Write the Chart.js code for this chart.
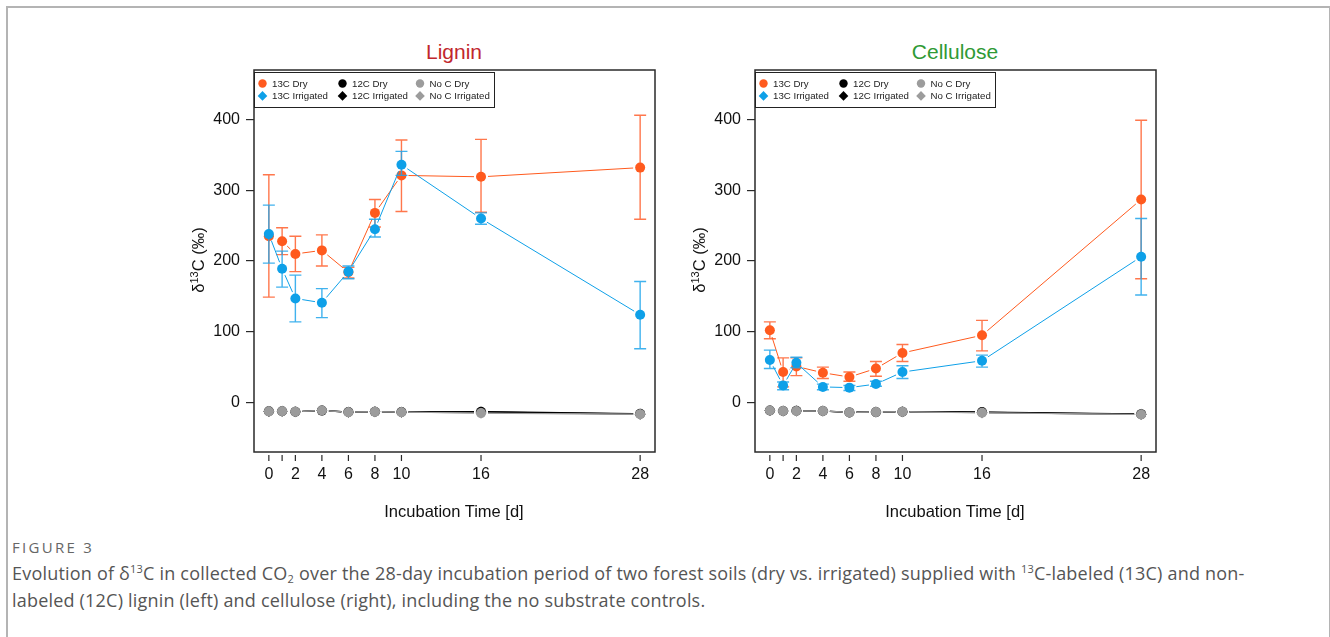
<!DOCTYPE html>
<html>
<head>
<meta charset="utf-8">
<script src="https://cdn.jsdelivr.net/npm/chart.js@4.4.1/dist/chart.umd.min.js"></script>
<style>
  html, body { margin: 0; padding: 0; background: #fff; }
  body { width: 1330px; height: 637px; position: relative; overflow: hidden; font-family: "Liberation Sans", Arial, sans-serif; }
  .frame { position: absolute; left: 6px; top: 6px; width: 1321px; height: 700px; border: 2px solid #b4b4b4; border-bottom: none; }
  .plot { position: absolute; top: 60px; width: 530px; height: 480px; }
  .title { position: absolute; top: 40px; width: 400px; text-align: center; font-size: 21px; line-height: 24px; }
  .xlab { position: absolute; top: 502px; width: 400px; text-align: center; font-size: 16.5px; color: #111; }
  .ylab { position: absolute; top: 250px; width: 140px; height: 20px; line-height: 20px; text-align: center; font-size: 16.5px; color: #111; transform: rotate(-90deg); }
  .ylab sup { font-size: 11px; vertical-align: 6px; line-height: 0; }
  .fig { position: absolute; left: 12px; top: 537px; font-family: "Open Sans", sans-serif; font-size: 15px; color: #666; letter-spacing: 2.3px; }
  .cap { position: absolute; left: 12px; top: 560px; width: 1310px; font-family: "Open Sans", sans-serif; font-size: 18px; letter-spacing: 0.2px; line-height: 27px; color: #555; white-space: nowrap; }
  .cap sup { font-size: 11px; vertical-align: 7px; line-height: 0; }
  .cap sub { font-size: 11px; vertical-align: -3px; line-height: 0; }
</style>
</head>
<body>
<div class="frame"></div>

<div class="title" style="left:254px; color:#c1272d;">Lignin</div>
<div class="title" style="left:755px; color:#2f9a35;">Cellulose</div>

<div class="plot" style="left:150px;"><canvas id="ligninChart" width="530" height="480"></canvas></div>
<div class="plot" style="left:651px;"><canvas id="celluloseChart" width="530" height="480"></canvas></div>

<div class="ylab" style="left:128px;">δ<sup>13</sup>C (‰)</div>
<div class="ylab" style="left:629px;">δ<sup>13</sup>C (‰)</div>
<div class="xlab" style="left:254px;">Incubation Time [d]</div>
<div class="xlab" style="left:755px;">Incubation Time [d]</div>

<div class="fig">FIGURE 3</div>
<div class="cap">Evolution of δ<sup>13</sup>C in collected CO<sub>2</sub> over the 28-day incubation period of two forest soils (dry vs. irrigated) supplied with <sup>13</sup>C-labeled (13C) and non-<br>labeled (12C) lignin (left) and cellulose (right), including the no substrate controls.</div>

<script>
// incubation days and axis ticks
const days = [0, 1, 2, 4, 6, 8, 10, 16, 28];
const xTicks = [0, 1, 2, 4, 6, 8, 10, 16, 28];
const yTicks = [0, 100, 200, 300, 400];
const legendLabels = [['13C Dry', '13C Irrigated'], ['12C Dry', '12C Irrigated'], ['No C Dry', 'No C Irrigated']];

// lignin
const ligninDry13 = [235, 228, 210, 215, 184, 268, 321, 319, 332];
const ligninDry13Lo = [149, 209, 185, 193, 176, 248, 270, 269, 259];
const ligninDry13Hi = [322, 247, 235, 237, 191, 287, 371, 372, 406];
const ligninIrr13 = [238, 189, 147, 141, 185, 245, 336, 260, 124];
const ligninIrr13Lo = [197, 163, 114, 120, 175, 234, 321, 252, 76];
const ligninIrr13Hi = [279, 214, 180, 161, 193, 259, 355, 268, 171];
const ligninDry12 = [-12.5, -12.3, -13, -11.5, -13.5, -13, -13.5, -13, -16];
const ligninIrr12 = [-12.7, -12.5, -13, -11.3, -13.7, -13.2, -13.7, -13.5, -16.5];
const ligninDryNoC = [-12.7, -12.3, -13, -11.3, -13.7, -13, -13.7, -15, -16.5];
const ligninIrrNoC = [-12.5, -12.5, -12.8, -11.5, -13.5, -13.2, -13.5, -15.3, -16.8];

// cellulose
const celluloseDry13 = [102, 43, 51, 42, 36, 48, 70, 95, 287];
const celluloseDry13Lo = [90, 22, 38, 34, 30, 37, 58, 73, 175];
const celluloseDry13Hi = [114, 63, 63, 50, 43, 58, 82, 116, 399];
const celluloseIrr13 = [60, 24, 56, 22, 21, 26, 43, 59, 206];
const celluloseIrr13Lo = [48, 18, 49, 18, 17, 23, 34, 50, 152];
const celluloseIrr13Hi = [74, 29, 64, 26, 24, 30, 52, 67, 260];
const celluloseDry12 = [-11.3, -12, -11.8, -12, -14, -13.6, -13, -13.5, -16.5];
const celluloseIrr12 = [-11.5, -12, -12, -12, -14, -13.5, -13, -14, -16.8];
const celluloseDryNoC = [-11.3, -12, -12, -12, -14, -13.6, -13, -14.6, -17];
const celluloseIrrNoC = [-11.5, -12.2, -12, -12.2, -14, -13.4, -13.2, -14.8, -17];

const ORANGE = '#ff5a1e';
const BLUE = '#0ea0e8';
const GRAY = '#9c9c9c';
const BLACK = '#000000';
const GAP = 7;

function drawMarker(ctx, shape, x, y, r, color) {
    ctx.fillStyle = color;
    ctx.beginPath();
    if (shape === 'diamond') {
        ctx.moveTo(x, y - r); ctx.lineTo(x + r, y); ctx.lineTo(x, y + r); ctx.lineTo(x - r, y);
        ctx.closePath();
    } else {
        ctx.arc(x, y, r, 0, Math.PI * 2);
    }
    ctx.fill();
}

// R-like look: gapped lines (type = "b"), error bars, box, outside x ticks, legend
const rStylePlugin = {
    id: 'rStyle',
    beforeDatasetDraw(chart, args) {
        const ds = chart.data.datasets[args.index];
        const pts = args.meta.data;
        const ctx = chart.ctx;
        const yScale = chart.scales.y;
        ctx.save();
        ctx.strokeStyle = ds.lineColor;
        ctx.lineWidth = ds.lineWidth;
        for (let i = 0; i < pts.length - 1; i++) {
            const a = pts[i], b = pts[i + 1];
            const dx = b.x - a.x, dy = b.y - a.y;
            const len = Math.hypot(dx, dy);
            if (len <= 2 * GAP) continue;
            const ux = dx / len, uy = dy / len;
            ctx.beginPath();
            ctx.moveTo(a.x + ux * GAP, a.y + uy * GAP);
            ctx.lineTo(b.x - ux * GAP, b.y - uy * GAP);
            ctx.stroke();
        }
        if (ds.errLo) {
            ctx.strokeStyle = ds.errColor;
            ctx.lineWidth = 1.4;
            pts.forEach((p, i) => {
                const lo = yScale.getPixelForValue(ds.errLo[i]);
                const hi = yScale.getPixelForValue(ds.errHi[i]);
                ctx.beginPath();
                ctx.moveTo(p.x, lo); ctx.lineTo(p.x, hi);
                ctx.moveTo(p.x - 6, lo); ctx.lineTo(p.x + 6, lo);
                ctx.moveTo(p.x - 6, hi); ctx.lineTo(p.x + 6, hi);
                ctx.stroke();
            });
        }
        ctx.restore();
    },
    afterDraw(chart) {
        const ctx = chart.ctx;
        const area = chart.chartArea;
        const xScale = chart.scales.x;
        ctx.save();
        // box
        ctx.strokeStyle = '#2a2a2a';
        ctx.lineWidth = 1.5;
        ctx.strokeRect(area.left, area.top, area.right - area.left, area.bottom - area.top);
        // x tick marks hanging below the box
        ctx.lineWidth = 1.2;
        ctx.beginPath();
        xTicks.forEach(v => {
            const px = xScale.getPixelForValue(v);
            ctx.moveTo(px, area.bottom + 3);
            ctx.lineTo(px, area.bottom + 9);
        });
        ctx.stroke();
        // legend
        const lx = area.left, ly = area.top + 2;
        ctx.fillStyle = '#fff';
        ctx.fillRect(lx, ly, 241, 35);
        ctx.strokeStyle = '#222';
        ctx.lineWidth = 1;
        ctx.strokeRect(lx + 0.5, ly + 0.5, 240, 35);
        const colX = [8.5, 88.5, 166];
        const colors = [[ORANGE, BLUE], [BLACK, BLACK], [GRAY, GRAY]];
        ctx.font = '9.7px "Liberation Sans", Arial, sans-serif';
        ctx.textBaseline = 'middle';
        ctx.textAlign = 'left';
        legendLabels.forEach((col, c) => {
            col.forEach((label, r) => {
                const yy = ly + 11.5 + r * 12.4;
                drawMarker(ctx, r === 0 ? 'circle' : 'diamond', lx + colX[c], yy, r === 0 ? 4.2 : 4.8, colors[c][r]);
                ctx.fillStyle = '#222';
                ctx.fillText(label, lx + colX[c] + 9.5, yy + 0.5);
            });
        });
        ctx.restore();
    }
};

function makeDataset(label, values, color, style, opts) {
    return Object.assign({
        label: label,
        data: days.map((d, i) => ({ x: d, y: values[i] })),
        showLine: false,
        pointStyle: style,
        pointRadius: style === 'rectRot' ? 5.5 : 5,
        pointBackgroundColor: color,
        pointBorderWidth: 0,
        lineColor: color,
        lineWidth: 1
    }, opts || {});
}

function createChart(canvasId, s) {
    // Chart.js paints the first dataset last, so the topmost series comes first
    new Chart(document.getElementById(canvasId), {
        type: 'line',
        data: {
            datasets: [
                makeDataset('13C Irrigated', s.irr13, BLUE, 'circle', {
                    errLo: s.irr13Lo, errHi: s.irr13Hi, errColor: 'rgba(30,165,235,0.85)'
                }),
                makeDataset('13C Dry', s.dry13, ORANGE, 'circle', {
                    errLo: s.dry13Lo, errHi: s.dry13Hi, errColor: 'rgba(255,95,45,0.85)'
                }),
                makeDataset('No C Irrigated', s.irrNoC, GRAY, 'rectRot'),
                makeDataset('No C Dry', s.dryNoC, GRAY, 'circle'),
                makeDataset('12C Irrigated', s.irr12, BLACK, 'rectRot', { lineWidth: 1.4 }),
                makeDataset('12C Dry', s.dry12, BLACK, 'circle', { lineWidth: 1.4 })
            ]
        },
        options: {
            responsive: false,
            animation: false,
            events: [],
            layout: { padding: { top: 10, right: 25, left: 0, bottom: 0 } },
            plugins: { legend: { display: false }, tooltip: { enabled: false } },
            scales: {
                x: {
                    type: 'linear',
                    min: -1.12,
                    max: 29.12,
                    afterBuildTicks: axis => { axis.ticks = xTicks.map(v => ({ value: v })); },
                    afterFit: axis => { axis.height = 88; axis.paddingLeft = 0; axis.paddingRight = 0; },
                    grid: { drawOnChartArea: false, drawTicks: true, tickLength: 9, color: 'rgba(0,0,0,0)' },
                    border: { display: false },
                    ticks: {
                        autoSkip: false,
                        maxRotation: 0,
                        padding: 4,
                        color: '#111',
                        font: { family: '"Liberation Sans", Arial, sans-serif', size: 16 },
                        callback: v => (v === 1 ? '' : String(v))
                    }
                },
                y: {
                    type: 'linear',
                    min: -70,
                    max: 470,
                    afterBuildTicks: axis => { axis.ticks = yTicks.map(v => ({ value: v })); },
                    afterFit: axis => { axis.width = 104; axis.paddingTop = 0; axis.paddingBottom = 0; },
                    grid: { drawOnChartArea: false, drawTicks: true, tickLength: 8, color: '#2a2a2a', lineWidth: 1.2 },
                    border: { display: false },
                    ticks: {
                        padding: 6,
                        color: '#111',
                        font: { family: '"Liberation Sans", Arial, sans-serif', size: 16 }
                    }
                }
            }
        },
        plugins: [rStylePlugin]
    });
}

createChart('ligninChart', {
    dry13: ligninDry13, dry13Lo: ligninDry13Lo, dry13Hi: ligninDry13Hi,
    irr13: ligninIrr13, irr13Lo: ligninIrr13Lo, irr13Hi: ligninIrr13Hi,
    dry12: ligninDry12, irr12: ligninIrr12, dryNoC: ligninDryNoC, irrNoC: ligninIrrNoC
});

createChart('celluloseChart', {
    dry13: celluloseDry13, dry13Lo: celluloseDry13Lo, dry13Hi: celluloseDry13Hi,
    irr13: celluloseIrr13, irr13Lo: celluloseIrr13Lo, irr13Hi: celluloseIrr13Hi,
    dry12: celluloseDry12, irr12: celluloseIrr12, dryNoC: celluloseDryNoC, irrNoC: celluloseIrrNoC
});
</script>
</body>
</html>
